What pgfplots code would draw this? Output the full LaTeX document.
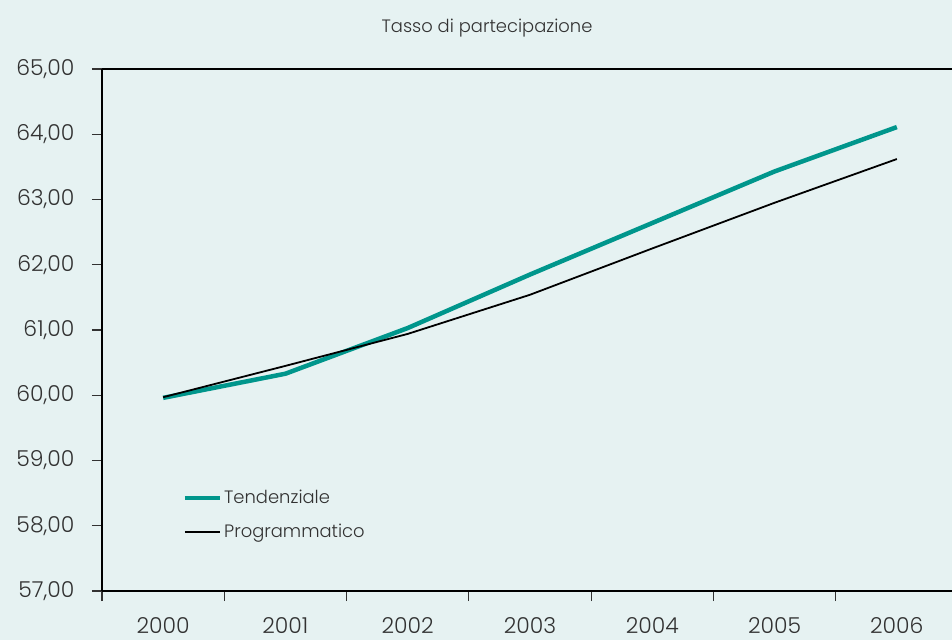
\documentclass[border=0pt]{standalone}
\usepackage{pgfplots}
\pgfplotsset{compat=1.18}
\usepackage{fontspec}
\setmainfont{Poppins Light}
\definecolor{bg}{RGB}{230,242,242}
\definecolor{tealc}{RGB}{0,150,140}
\definecolor{txt}{RGB}{50,50,50}
\pgfplotstableread{
x tend prog
0 59.96 59.97
1 60.33 60.45
2 61.03 60.94
3 61.85 61.54
4 62.64 62.25
5 63.43 62.95
6 64.11 63.62
}\data
\begin{document}
\begin{tikzpicture}[font=\fontsize{20}{24}\selectfont]
\fill[bg] (-102bp,-49bp) rectangle (850bp,591bp);
\path[use as bounding box] (-102bp,-49bp) rectangle (850bp,591bp);
\begin{axis}[
  at={(0,0)}, anchor=south west,
  scale only axis, width=856bp, height=522bp,
  xmin=-0.5, xmax=6.5, ymin=57, ymax=65,
  axis x line*=box, axis y line*=left,
  axis line style={black, line width=1.2bp},
  xtick={0,...,6}, xticklabels={2000,2001,2002,2003,2004,2005,2006},
  minor xtick={-0.5,0.5,...,6.5},
  major x tick style={draw=none},
  xtick pos=left, ytick pos=left,
  tick align=outside,
  major tick length=10bp, minor tick length=10bp,
  tick style={txt, line width=1.2bp},
  ytick={57,...,65},
  /pgf/number format/assume math mode=true,
  /pgf/number format/fixed,
  /pgf/number format/fixed zerofill,
  /pgf/number format/precision=2,
  /pgf/number format/use comma,
  tick label style={font=\fontsize{22}{26}\selectfont, text=txt},
  yticklabel style={xshift=-14bp},
  xticklabel style={yshift=-13bp},
  legend style={draw=none, fill=none, at={(0.094,0.197)}, anchor=north west, inner sep=0pt,
    font=\fontsize{18}{22}\selectfont, text=txt, row sep=15bp, nodes={inner sep=2bp}},
  legend cell align=left,
  legend image code/.code={\draw[#1] (0bp,0bp) -- (35bp,0bp);},
]
\addplot[tealc, line width=4.5bp] table[x=x, y=tend] {\data};
\addlegendentry{Tendenziale}
\addplot[black, line width=1.8bp] table[x=x, y=prog] {\data};
\addlegendentry{Programmatico}
\end{axis}
\node[text=txt, font=\fontsize{18}{22}\selectfont] at (385bp,563bp) {Tasso di partecipazione};
\end{tikzpicture}
\end{document}
